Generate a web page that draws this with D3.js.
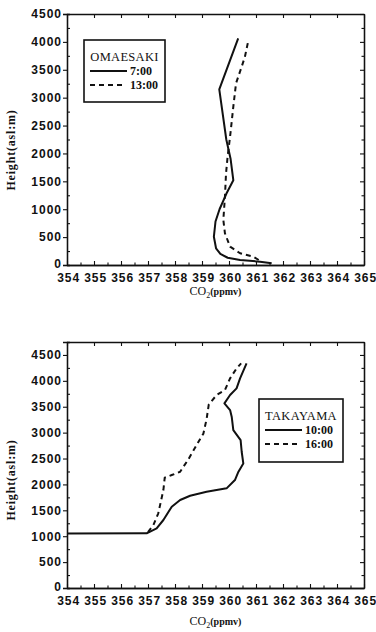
<!DOCTYPE html>
<html>
<head>
<meta charset="utf-8">
<script src="https://cdn.jsdelivr.net/npm/d3@7"></script>
<style>
  html, body { margin: 0; padding: 0; background: #fff; }
  svg { display: block; }
</style>
</head>
<body>
<div id="chart"></div>
<script>
// page size
const width = 376;
const height = 632;

// shared x axis values
const co2Ticks = [354, 355, 356, 357, 358, 359, 360, 361, 362, 363, 364, 365];
const heightTicks = [0, 500, 1000, 1500, 2000, 2500, 3000, 3500, 4000, 4500];

// OMAESAKI profiles [CO2 ppmv, height m]
const omaesaki0700 = [[361.58, 30], [361.15, 60], [360.41, 90], [359.95, 130], [359.68, 200], [359.52, 300], [359.44, 507],
  [359.5, 780], [359.65, 1000], [359.91, 1285], [360.16, 1520], [360.06, 1900], [359.9, 2250], [359.64, 3150], [360.34, 4064]];
const omaesaki1300 = [[361.1, 90], [360.9, 149], [360.41, 210], [360.04, 328], [359.85, 568], [359.79, 807],
  [359.85, 1225], [359.89, 1644], [359.95, 1950], [360.04, 2301], [360.16, 2839], [360.26, 3257],
  [360.47, 3556], [360.59, 3735], [360.72, 4034]];

// TAKAYAMA profiles [CO2 ppmv, height m]
const takayama1000 = [[354, 1050], [356.95, 1056], [357.32, 1152], [357.57, 1313], [357.88, 1570], [358.19, 1699],
  [358.56, 1782], [359.17, 1860], [359.91, 1924], [360.22, 2085], [360.35, 2245], [360.53, 2406],
  [360.47, 2631], [360.43, 2857], [360.16, 3050], [360.1, 3307], [360.04, 3436], [359.83, 3566],
  [360.04, 3726], [360.28, 3855], [360.41, 4048], [360.65, 4338]];
const takayama1600 = [[357.0, 1080], [357.2, 1216], [357.38, 1442], [357.57, 1892], [357.62, 2130], [357.88, 2181],
  [358.19, 2245], [358.49, 2480], [358.8, 2761], [359.05, 2980], [359.17, 3260], [359.25, 3540],
  [359.54, 3726], [359.85, 3822], [360.04, 4048], [360.28, 4241], [360.45, 4338]];

const svg = d3.select("#chart").append("svg")
  .attr("width", width)
  .attr("height", height)
  .style("font-family", "'Liberation Serif', 'DejaVu Serif', serif");

svg.append("rect").attr("width", width).attr("height", height).attr("fill", "#fff");

const panels = [
  { top: 14, bottom: 265, yMax: 4500, name: "OMAESAKI", times: ["7:00", "13:00"], series: [omaesaki0700, omaesaki1300],
    legend: { x: 84, y: 40, w: 81, h: 62 }, xLabelY: 295, yLabelY: 150 },
  { top: 342, bottom: 588, yMax: 4750, name: "TAKAYAMA", times: ["10:00", "16:00"], series: [takayama1000, takayama1600],
    legend: { x: 259, y: 399, w: 84, h: 63 }, xLabelY: 625, yLabelY: 480 }
];

const left = 67, right = 364;

panels.forEach(p => {
  const x = d3.scaleLinear().domain([354, 365]).range([left, right]);
  const y = d3.scaleLinear().domain([0, p.yMax]).range([p.bottom, p.top]);
  const g = svg.append("g");

  const minorX = d3.range(354.5, 365, 1);
  const minorY = d3.range(250, p.yMax, 500);

  //left axis, labelled
  const ax = g.append("g").attr("transform", `translate(${left},0)`)
    .call(d3.axisLeft(y).tickValues(heightTicks).tickSize(4).tickPadding(1).tickFormat(d3.format("d")));
  ax.selectAll("text").style("font-size", "12px").style("font-weight", "bold").style("letter-spacing", "1px");
  ax.selectAll("text").filter(d => d === 0).attr("dy", "0.2em");
  g.append("g").attr("transform", `translate(${left},0)`)
    .call(d3.axisLeft(y).tickValues(minorY).tickSize(-3).tickFormat(""));

  //bottom axis, labelled
  const bx = g.append("g").attr("transform", `translate(0,${p.bottom})`)
    .call(d3.axisBottom(x).tickValues(co2Ticks).tickSizeInner(-4).tickSizeOuter(0).tickPadding(8).tickFormat(d3.format("d")));
  bx.selectAll("text").style("font-size", "12px").style("font-weight", "bold").style("letter-spacing", "1px")
    .attr("dx", "0.1em");
  g.append("g").attr("transform", `translate(0,${p.bottom})`)
    .call(d3.axisBottom(x).tickValues(minorX).tickSizeInner(-2.5).tickSizeOuter(0).tickFormat(""));

  //mirrored top + right axes
  g.append("g").attr("transform", `translate(0,${p.top})`)
    .call(d3.axisTop(x).tickValues(co2Ticks).tickSizeInner(-4).tickSizeOuter(0).tickFormat(""));
  g.append("g").attr("transform", `translate(${right},0)`)
    .call(d3.axisRight(y).tickValues(heightTicks).tickSizeInner(-4).tickSizeOuter(0).tickFormat(""));
  g.append("g").attr("transform", `translate(${right},0)`)
    .call(d3.axisRight(y).tickValues(minorY).tickSizeInner(-2.5).tickSizeOuter(0).tickFormat(""));

  g.selectAll(".domain").attr("stroke", "#111").attr("stroke-width", 1.3);
  g.selectAll(".tick line").attr("stroke", "#111").attr("stroke-width", 1.1);
  g.selectAll(".tick text").attr("fill", "#111");

  //profiles
  const line = d3.line().x(d => x(d[0])).y(d => y(d[1]));
  p.series.forEach((s, i) => {
    g.append("path")
      .datum(s)
      .attr("d", line)
      .attr("fill", "none")
      .attr("stroke", "#111")
      .attr("stroke-width", 2)
      .attr("stroke-linejoin", "round")
      .attr("stroke-dasharray", i === 1 ? "5,4" : null);
  });

  //legend box
  const L = p.legend;
  const lg = g.append("g").attr("transform", `translate(${L.x},${L.y})`);
  lg.append("rect").attr("width", L.w).attr("height", L.h)
    .attr("fill", "#fff").attr("stroke", "#111").attr("stroke-width", 1.6);
  lg.append("text").attr("x", L.w / 2).attr("y", 21).attr("text-anchor", "middle")
    .style("font-size", "12.5px").style("letter-spacing", "0.3px").attr("fill", "#111").text(p.name);
  p.times.forEach((t, i) => {
    const yy = 31 + i * 14;
    lg.append("line").attr("x1", 6).attr("x2", i === 0 ? 43 : 42).attr("y1", yy).attr("y2", yy)
      .attr("stroke", "#111").attr("stroke-width", 1.8).attr("stroke-dasharray", i === 1 ? "5,4" : null);
    lg.append("text").attr("x", 46).attr("y", yy + 4)
      .style("font-size", "12px").style("font-weight", "bold").attr("fill", "#111").text(t);
  });

  //axis titles
  const xl = g.append("text").attr("x", (left + right) / 2).attr("y", p.xLabelY)
    .attr("text-anchor", "middle").attr("fill", "#111").style("font-size", "12px");
  xl.append("tspan").text("CO");
  xl.append("tspan").attr("dy", 3).style("font-size", "8px").text("2");
  xl.append("tspan").attr("dy", -3).style("font-size", "10px").style("font-weight", "bold").text("(ppmv)");

  g.append("text").attr("transform", `translate(15,${p.yLabelY}) rotate(-90)`)
    .attr("text-anchor", "middle").attr("fill", "#111")
    .style("font-size", "12px").style("font-weight", "bold").style("letter-spacing", "0.8px").text("Height(asl:m)");
});
</script>
</body>
</html>
